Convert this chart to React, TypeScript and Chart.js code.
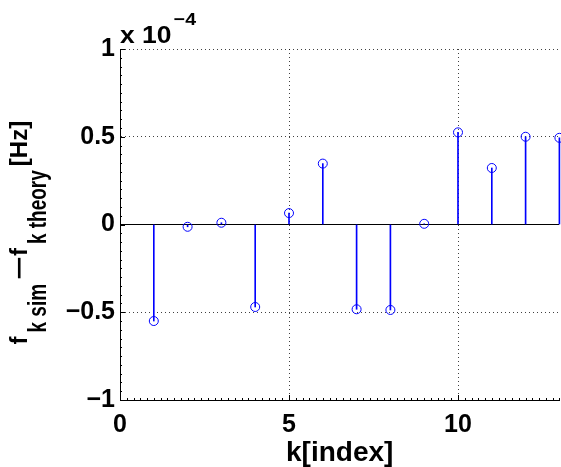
import React, { useEffect, useRef } from 'react';
import { Chart, registerables } from 'chart.js';

Chart.register(...registerables);

// ---- data (values in units of 10^-4 Hz) ----
const kIndex = [1, 2, 3, 4, 5, 6, 7, 8, 9, 10, 11, 12, 13];
const freqError = [-0.55, -0.013, 0.01, -0.47, 0.065, 0.347, -0.483, -0.487, 0.004, 0.525, 0.322, 0.5, 0.494];
const xRange = [0, 13];
const yRange = [-1, 1];
const xTicks = [0, 5, 10];
const xTickLabels = ['0', '5', '10'];
const yTicks = [-1, -0.5, 0, 0.5, 1];
const yTickLabels = ['\u22121', '\u22120.5', '0', '0.5', '1'];
const yExponentBase = 'x 10';
const yExponent = '\u22124';
const xTitle = 'k[index]';
const yTitleParts = [
  { text: 'f', sub: false },
  { text: 'k sim', sub: true },
  { text: '\u2212', sub: false },
  { text: 'f', sub: false },
  { text: 'k theory', sub: true },
  { text: '[Hz]', sub: false },
];

const FONT = '"Liberation Sans", Arial, Helvetica, sans-serif';
const BLUE = '#0000ff';
const GRID = 'rgba(0,0,0,0.75)';
const CLEAR = 'rgba(0,0,0,0)';

const overlay = {
  id: 'overlay',
  afterDraw(chart: any) {
    const { ctx, chartArea: ca, scales } = chart;
    const xs = scales.x;
    const ys = scales.y;
    ctx.save();

    // inward tick marks (major + minor), MATLAB style
    ctx.strokeStyle = '#000';
    ctx.lineWidth = 1;
    ctx.beginPath();
    const xMinor = 0.2;
    for (let i = 0; ; i++) {
      const v = xRange[0] + i * xMinor;
      if (v > xRange[1] + 1e-9) break;
      const px = Math.round(xs.getPixelForValue(v)) + 0.5;
      const major = xTicks.some((t) => Math.abs(t - v) < 1e-6);
      ctx.moveTo(px, ca.bottom);
      ctx.lineTo(px, ca.bottom - (major ? 5 : 2));
    }
    const yMinor = 0.05;
    for (let i = 0; ; i++) {
      const v = yRange[0] + i * yMinor;
      if (v > yRange[1] + 1e-9) break;
      const py = Math.round(ys.getPixelForValue(v)) + 0.5;
      const major = yTicks.some((t) => Math.abs(t - v) < 1e-6);
      ctx.moveTo(ca.left, py);
      ctx.lineTo(ca.left + (major ? 5 : 2), py);
    }
    ctx.stroke();

    ctx.fillStyle = '#000';
    ctx.textBaseline = 'alphabetic';
    ctx.textAlign = 'left';

    // exponent "x 10^-4"
    ctx.save();
    ctx.translate(ca.left, 43);
    ctx.scale(1.15, 1);
    ctx.font = `bold 23px ${FONT}`;
    ctx.fillText(yExponentBase, 0, 0);
    const w = ctx.measureText(yExponentBase).width;
    ctx.font = `bold 17px ${FONT}`;
    ctx.fillText(yExponent, w + 2, -18);
    ctx.restore();

    // y-axis title with subscripts
    ctx.save();
    ctx.rotate(-Math.PI / 2);
    const cy = (ca.top + ca.bottom) / 2;
    let u = -(cy + 120);
    const mainBase = 27;
    const subBase = 46;
    yTitleParts.forEach((p, i) => {
      ctx.save();
      if (p.sub) {
        ctx.font = `bold 19px ${FONT}`;
        ctx.translate(u, subBase);
        ctx.scale(1, 1.35);
        ctx.fillText(p.text, 0, 0);
        u += ctx.measureText(p.text).width;
      } else if (p.text === '\u2212') {
        ctx.font = `bold 24px ${FONT}`;
        ctx.translate(u, mainBase);
        ctx.scale(1.7, 1);
        ctx.fillText(p.text, 0, 0);
        u += ctx.measureText(p.text).width * 1.7;
      } else {
        ctx.font = `bold 24px ${FONT}`;
        ctx.fillText(p.text, u, mainBase);
        u += ctx.measureText(p.text).width;
      }
      ctx.restore();
      const next = yTitleParts[i + 1];
      if (next) u += next.sub !== p.sub ? 4 : 0;
    });
    ctx.restore();

    ctx.restore();
  },
};

export default function App() {
  const ref = useRef<HTMLCanvasElement | null>(null);

  useEffect(() => {
    document.body.style.margin = '0';
    const canvas = ref.current;
    if (!canvas) return;
    const points = kIndex.map((k, i) => ({ x: k, y: freqError[i] }));
    const tickFont = { family: FONT, size: 25, weight: 'bold' as const };

    const chart = new Chart(canvas, {
      type: 'scatter',
      data: {
        datasets: [
          {
            type: 'line',
            label: 'baseline',
            data: xRange.map((x) => ({ x, y: 0 })),
            borderColor: '#000',
            borderWidth: 1,
            pointRadius: 0,
            order: 3,
          } as any,
          {
            type: 'bar',
            label: 'stems',
            data: points,
            backgroundColor: BLUE,
            borderWidth: 0,
            barThickness: 1,
            clip: false,
            order: 2,
          } as any,
          {
            type: 'scatter',
            label: 'markers',
            data: points,
            pointStyle: 'circle',
            pointRadius: 4.5,
            borderColor: BLUE,
            backgroundColor: CLEAR,
            borderWidth: 1,
            clip: false,
            order: 1,
          } as any,
        ],
      },
      options: {
        animation: false,
        responsive: false,
        maintainAspectRatio: false,
        layout: { autoPadding: false, padding: { top: 49, right: 1.6, left: 0, bottom: 0 } },
        plugins: { legend: { display: false }, tooltip: { enabled: false } },
        scales: {
          x: {
            type: 'linear',
            min: xRange[0],
            max: xRange[1],
            offset: false,
            afterBuildTicks: (s: any) => {
              s.ticks = xTicks.map((v) => ({ value: v }));
            },
            afterFit: (s: any) => {
              s.height = 67;
              s.paddingLeft = 0;
              s.paddingRight = 0;
            },
            grid: {
              offset: false,
              color: (c: any) => (c.tick && c.tick.value === xRange[0] ? CLEAR : GRID),
              drawTicks: false,
              lineWidth: 1,
            },
            border: { display: true, color: '#000', width: 1, dash: [1, 3] },
            ticks: {
              font: tickFont,
              color: '#000',
              padding: 10,
              maxRotation: 0,
              autoSkip: false,
              callback: (_v: any, i: number) => xTickLabels[i],
            },
            title: {
              display: true,
              text: xTitle,
              color: '#000',
              font: { family: FONT, size: 28, weight: 'bold', lineHeight: 1 },
              padding: { top: 0, bottom: 0 },
            },
          },
          y: {
            type: 'linear',
            min: yRange[0],
            max: yRange[1],
            afterBuildTicks: (s: any) => {
              s.ticks = yTicks.map((v) => ({ value: v }));
            },
            afterFit: (s: any) => {
              s.width = 120;
            },
            grid: {
              color: (c: any) =>
                c.tick && (c.tick.value === 0 || c.tick.value === yRange[0]) ? CLEAR : GRID,
              drawTicks: false,
              lineWidth: 1,
            },
            border: { display: true, color: '#000', width: 1, dash: [1, 3] },
            ticks: {
              font: tickFont,
              color: '#000',
              padding: 5,
              autoSkip: false,
              callback: (_v: any, i: number) => yTickLabels[i],
            },
          },
        },
      } as any,
      plugins: [overlay],
    });
    return () => chart.destroy();
  }, []);

  return (
    <div style={{ width: 561, height: 467, position: 'relative', background: '#fff' }}>
      <canvas ref={ref} width={561} height={467} style={{ display: 'block' }} />
    </div>
  );
}
